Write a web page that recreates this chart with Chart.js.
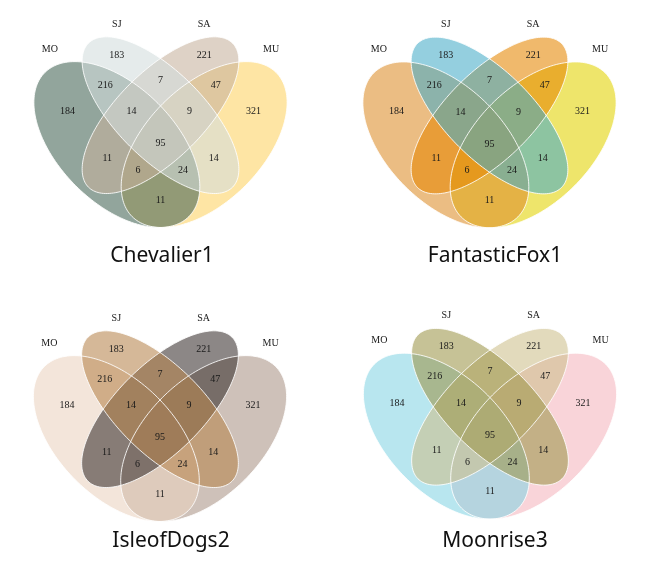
<!DOCTYPE html>
<html>
<head>
<meta charset="utf-8">
<script src="https://cdn.jsdelivr.net/npm/chart.js@4.4.0/dist/chart.umd.min.js"></script>
<style>
  html, body { margin: 0; padding: 0; background: #fff; overflow: hidden; }
  body { width: 648px; height: 563px; position: relative; }
  .panel { position: absolute; width: 310px; height: 280px; }
</style>
</head>
<body>
<div class="panel" style="left:7px;top:0px"><canvas id="venn0"></canvas></div>
<div class="panel" style="left:340px;top:0px"><canvas id="venn1"></canvas></div>
<div class="panel" style="left:16px;top:285px"><canvas id="venn2"></canvas></div>
<div class="panel" style="left:340px;top:285px"><canvas id="venn3"></canvas></div>
<script>
const setNames = ["MO", "SJ", "SA", "MU"];

const regionNames = [
  "MO", "SJ", "SA", "MU",
  "MO∩SJ", "SJ∩SA", "SA∩MU", "MO∩SA", "SJ∩MU", "MO∩MU",
  "MO∩SJ∩SA", "SJ∩SA∩MU", "MO∩SA∩MU", "MO∩SJ∩MU",
  "MO∩SJ∩SA∩MU"
];
const regionCounts = [184, 183, 221, 321, 216, 7, 47, 11, 14, 11, 14, 9, 6, 24, 95];

const chartTitles = ["Chevalier1", "FantasticFox1", "IsleofDogs2", "Moonrise3"];

// fill colours per set (MO, SJ, SA, MU)
const palettes = [
  ["#446455", "#D3DDDC", "#C7B19C", "#FDD262"],
  ["#DD8D29", "#46ACC8", "#E58601", "#E2D200"],
  ["#EAD3BF", "#B6854D", "#39312F", "#AA9486"],
  ["#85D4E3", "#9C964A", "#CDC08C", "#F4B5BD"]
];

// ---- layout (venn units, 0..1 square) ----
const ellipses = [
  { cx: 0.35, cy: 0.476, a: 0.35, b: 0.20, rot: 135 },
  { cx: 0.50, cy: 0.577, a: 0.35, b: 0.15, rot: 135 },
  { cx: 0.50, cy: 0.577, a: 0.35, b: 0.15, rot: 45 },
  { cx: 0.65, cy: 0.476, a: 0.35, b: 0.20, rot: 45 }
];
const drawOrder = [3, 0, 2, 1];
const regionAnchors = [
  [0.18, 0.59], [0.35, 0.783], [0.65, 0.783], [0.82, 0.59],
  [0.31, 0.68], [0.50, 0.698], [0.69, 0.68], [0.317, 0.428], [0.683, 0.428], [0.50, 0.285],
  [0.40, 0.589], [0.60, 0.589], [0.423, 0.387], [0.577, 0.387],
  [0.50, 0.479]
];
const setLabelAnchors = [[0.12, 0.804], [0.35, 0.89], [0.65, 0.89], [0.88, 0.804]];

const UNIT = 291;          // pixels per venn unit
const CANVAS_W = 310;
const CANVAS_H = 280;
const TITLE_SIZE = 21;
const TITLE_PAD = 11;
const AREA_H = CANVAS_H - TITLE_SIZE * 1.2 - TITLE_PAD;
const CENTER = [0.5, 0.479];
// where the venn centre sits inside each canvas, in pixels
const panelCentres = [[153.5, 143.7], [149.5, 144], [144, 152.7], [150, 150.3]];
const FILL_ALPHA = 0.58;

function ellipsePath(e, x, y) {
  const path = new Path2D();
  const r = e.rot * Math.PI / 180;
  const steps = 180;
  for (let i = 0; i <= steps; i++) {
    const t = (i / steps) * Math.PI * 2;
    const ux = e.cx + e.a * Math.cos(t) * Math.cos(r) - e.b * Math.sin(t) * Math.sin(r);
    const uy = e.cy + e.a * Math.cos(t) * Math.sin(r) + e.b * Math.sin(t) * Math.cos(r);
    const px = x.getPixelForValue(ux);
    const py = y.getPixelForValue(uy);
    if (i === 0) path.moveTo(px, py); else path.lineTo(px, py);
  }
  path.closePath();
  return path;
}

const vennPlugin = {
  id: "vennEllipses",
  beforeDatasetsDraw(chart, args, opts) {
    const { ctx, scales } = chart;
    const paths = ellipses.map((e) => ellipsePath(e, scales.x, scales.y));
    ctx.save();
    drawOrder.forEach((i) => {
      ctx.globalAlpha = FILL_ALPHA;
      ctx.fillStyle = opts.palette[i];
      ctx.fill(paths[i]);
    });
    ctx.globalAlpha = 1;
    ctx.strokeStyle = "rgba(255, 255, 255, 0.85)";
    ctx.lineWidth = 1;
    paths.forEach((p) => ctx.stroke(p));
    ctx.restore();
  },
  afterDatasetsDraw(chart) {
    const { ctx } = chart;
    ctx.save();
    ctx.textAlign = "center";
    ctx.textBaseline = "middle";
    chart.data.datasets.forEach((ds, di) => {
      const meta = chart.getDatasetMeta(di);
      ctx.font = ds.labelFont;
      ctx.fillStyle = ds.labelColor;
      meta.data.forEach((el, i) => {
        ctx.fillText(ds.data[i].text, el.x, el.y);
      });
    });
    ctx.restore();
  }
};

function buildVenn(canvasId, idx) {
  const [pcx, pcy] = panelCentres[idx];
  const xMin = CENTER[0] - pcx / UNIT;
  const yMax = CENTER[1] + pcy / UNIT;
  return new Chart(document.getElementById(canvasId), {
    type: "scatter",
    data: {
      datasets: [
        {
          label: "regions",
          data: regionCounts.map((v, i) => ({ x: regionAnchors[i][0], y: regionAnchors[i][1], text: String(v), name: regionNames[i] })),
          pointRadius: 0,
          labelFont: "10px 'Liberation Serif', 'Times New Roman', serif",
          labelColor: "#1a1a1a"
        },
        {
          label: "sets",
          data: setNames.map((n, i) => ({ x: setLabelAnchors[i][0], y: setLabelAnchors[i][1], text: n })),
          pointRadius: 0,
          labelFont: "10px 'Liberation Serif', 'Times New Roman', serif",
          labelColor: "#1a1a1a"
        }
      ]
    },
    plugins: [vennPlugin],
    options: {
      responsive: true,
      maintainAspectRatio: false,
      animation: false,
      events: [],
      layout: { padding: 0 },
      plugins: {
        legend: { display: false },
        tooltip: { enabled: false },
        title: {
          display: true,
          text: chartTitles[idx],
          position: "bottom",
          color: "#111",
          font: { family: "'Noto Sans', 'Open Sans', sans-serif", size: TITLE_SIZE, weight: "normal" },
          padding: { top: 0, bottom: TITLE_PAD }
        },
        vennEllipses: { palette: palettes[idx] }
      },
      scales: {
        x: { type: "linear", display: false, min: xMin, max: xMin + CANVAS_W / UNIT },
        y: { type: "linear", display: false, min: yMax - AREA_H / UNIT, max: yMax }
      }
    }
  });
}

chartTitles.forEach((t, i) => buildVenn("venn" + i, i));
</script>
</body>
</html>
